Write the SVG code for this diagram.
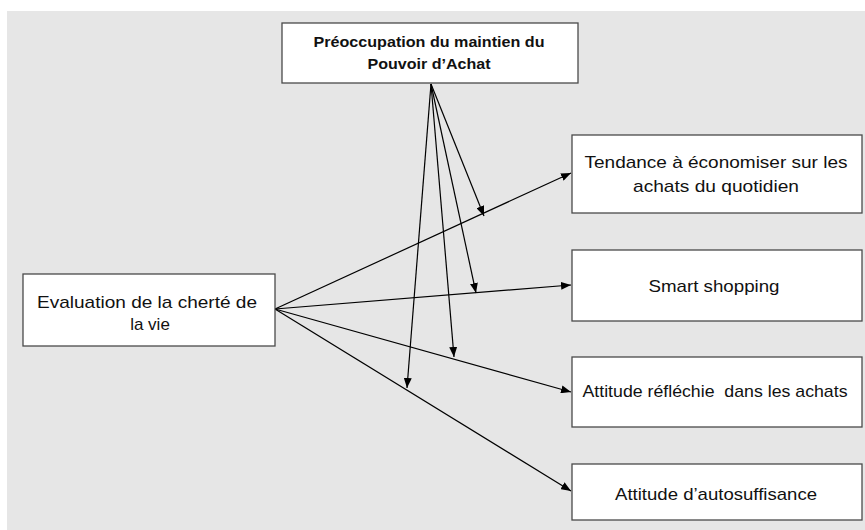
<svg xmlns="http://www.w3.org/2000/svg" width="865" height="530" viewBox="0 0 865 530">
  <defs>
    <marker id="arr" viewBox="0 0 10 8" refX="10" refY="4" markerWidth="10" markerHeight="8" markerUnits="userSpaceOnUse" orient="auto">
      <path d="M0,0 L10,4 L0,8 z" fill="#000"/>
    </marker>
    <style>
      .box { fill: #ffffff; stroke: #4a4a4a; stroke-width: 1.3; }
      .lbl { font-family: "Liberation Sans", Arial, sans-serif; font-size: 17px; fill: #111; text-anchor: middle; }
      .bold { font-weight: bold; font-size: 15px; }
      .conn line { stroke: #000; stroke-width: 1.2; fill: none; marker-end: url(#arr); }
    </style>
  </defs>
  <rect x="0" y="0" width="865" height="530" fill="#ffffff"/>
  <rect x="7" y="11" width="858" height="519" fill="#e6e6e6"/>

  <g id="connectors" class="conn">
    <line x1="275" y1="309" x2="571" y2="173"/>
    <line x1="275" y1="309" x2="571" y2="285"/>
    <line x1="275" y1="309" x2="571" y2="392"/>
    <line x1="275" y1="309" x2="571" y2="491"/>
    <line x1="431" y1="84" x2="484" y2="216"/>
    <line x1="431" y1="84" x2="476" y2="293"/>
    <line x1="431" y1="84" x2="454" y2="357"/>
    <line x1="431" y1="84" x2="407" y2="388"/>
  </g>

  <g id="node-pouvoir">
    <rect class="box" x="282" y="23" width="296" height="60"/>
    <text class="lbl bold" x="429" y="47" textLength="231" lengthAdjust="spacingAndGlyphs">Préoccupation du maintien du</text>
    <text class="lbl bold" x="429" y="69" textLength="123" lengthAdjust="spacingAndGlyphs">Pouvoir d’Achat</text>
  </g>

  <g id="node-cherte">
    <rect class="box" x="23" y="274" width="252" height="72"/>
    <text class="lbl" x="147" y="308" textLength="220" lengthAdjust="spacingAndGlyphs">Evaluation de la cherté de</text>
    <text class="lbl" x="150" y="330">la vie</text>
  </g>

  <g id="node-tendance">
    <rect class="box" x="572" y="135" width="290" height="78"/>
    <text class="lbl" x="716" y="168" textLength="263" lengthAdjust="spacingAndGlyphs">Tendance à économiser sur les</text>
    <text class="lbl" x="716" y="192" textLength="166" lengthAdjust="spacingAndGlyphs">achats du quotidien</text>
  </g>

  <g id="node-smart">
    <rect class="box" x="572" y="250" width="290" height="71"/>
    <text class="lbl" x="714" y="292" textLength="131" lengthAdjust="spacingAndGlyphs">Smart shopping</text>
  </g>

  <g id="node-reflechie">
    <rect class="box" x="572" y="357" width="290" height="70"/>
    <text class="lbl" x="715" y="397" textLength="265" lengthAdjust="spacingAndGlyphs" xml:space="preserve">Attitude réfléchie  dans les achats</text>
  </g>

  <g id="node-autosuffisance">
    <rect class="box" x="572" y="464" width="290" height="56"/>
    <text class="lbl" x="716" y="500" textLength="202" lengthAdjust="spacingAndGlyphs">Attitude d’autosuffisance</text>
  </g>
</svg>
